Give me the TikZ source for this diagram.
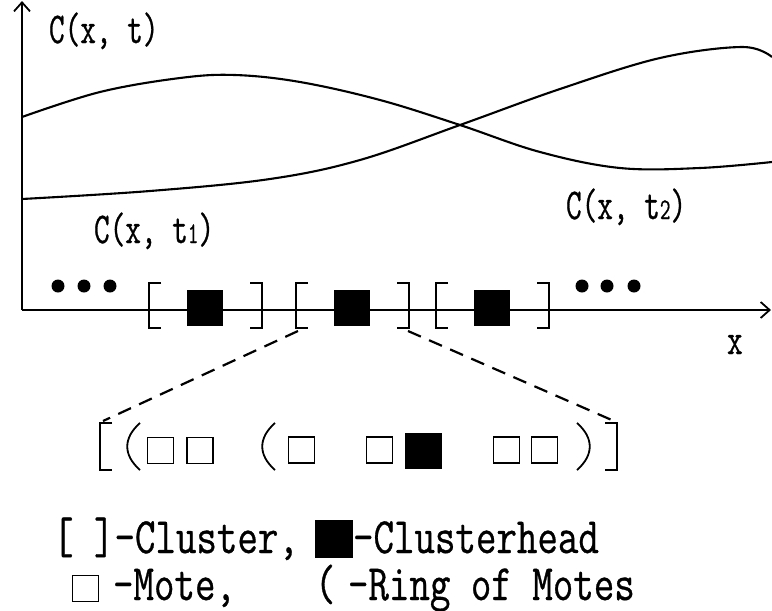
\documentclass[tikz,border=0pt]{standalone}
\usepackage{fontspec}
\newfontfamily\plotfont[FakeStretch=0.69,FakeBold=0.6]{Latin Modern Mono}
\newfontfamily\legfont[FakeStretch=0.78,FakeBold=0.6]{Latin Modern Mono}
\usetikzlibrary{arrows.meta}
\begin{document}
\begin{tikzpicture}[x=1pt,y=-1pt,line width=2.1pt,
  lab/.style={font=\plotfont\fontsize{44}{44}\selectfont, inner sep=0pt, anchor=base west},
  leg/.style={font=\legfont\fontsize{51}{51}\selectfont, inner sep=0pt, anchor=base west},
  head/.style={fill=black, draw=none, inner sep=0pt, minimum width=36pt, minimum height=36pt},
  mote/.style={draw, line width=1.7pt, fill=white, inner sep=0pt, minimum size=26pt},
  dotnode/.style={circle, fill=black, draw=none, inner sep=0pt, minimum size=13pt},
  brk/.style={line width=1.9pt},
  axis/.style={line width=2.1pt, -{Straight Barb[length=9pt,width=16pt,line width=1.8pt]}},
  link/.style={line width=2.2pt, dash pattern=on 14pt off 9pt}
]
\useasboundingbox (0,0) rectangle (772,611);

% axes
\coordinate (O) at (22,310);
\coordinate (Ytop) at (22,1);
\coordinate (Xend) at (771,310);
\draw[axis] (O) -- (Ytop);
\draw[axis] (O) -- (Xend);

% curves
\draw plot[smooth, tension=0.6] coordinates {(22,199) (150,191) (270,179) (360,160) (460,125) (560,89) (660,58) (742,47) (772,57)};
\draw plot[smooth, tension=0.6] coordinates {(22,117) (100,92) (180,78) (235,75) (300,82) (380,100) (460,125) (540,152) (620,168) (700,168) (772,162)};

% labels
\node[lab] (lC) at (48,43) {C(x, t)};
\node[lab] (lC1) at (93,243) {C(x, t{\fontsize{30}{30}\selectfont 1})};
\node[lab] (lC2) at (565,219) {C(x, t{\fontsize{30}{30}\selectfont 2})};
\node[lab] (lx) at (726,354) {x};

% dots
\node[dotnode] (d1) at (58,286) {};
\node[dotnode] (d2) at (84,286) {};
\node[dotnode] (d3) at (110,286) {};
\node[dotnode] (d4) at (582,286) {};
\node[dotnode] (d5) at (607,286) {};
\node[dotnode] (d6) at (634,286) {};

% clusters
\foreach \xo/\name in {149/h1, 296/h2, 436/h3}{
  \draw[brk] (\xo+12,283) -- (\xo,283) -- (\xo,328) -- (\xo+12,328);
  \draw[brk] (\xo+101,283) -- (\xo+113,283) -- (\xo+113,328) -- (\xo+101,328);
  \node[head] (\name) at (\xo+56,308) {};
}

% expansion
\coordinate (c2l) at (298,331);
\coordinate (c2r) at (408,331);
\coordinate (bl) at (103,421);
\coordinate (br) at (614,421);
\draw[link] (c2l) -- (bl);
\draw[link] (c2r) -- (br);

\draw[brk] (112,423) -- (100,423) -- (100,470) -- (112,470);
\draw[brk] (605,423) -- (617,423) -- (617,470) -- (605,470);
\draw[line width=1.8pt] (140,423) .. controls (123,438) and (123,455) .. (140,470);
\draw[line width=1.8pt] (275,423) .. controls (258,438) and (258,455) .. (275,470);
\draw[line width=1.8pt] (577,423) .. controls (594,438) and (594,455) .. (577,470);

\node[mote] (m1) at (160.5,450.5) {};
\node[mote] (m2) at (200,450.5) {};
\node[mote] (m3) at (301.5,450) {};
\node[mote] (m4) at (379.5,450) {};
\node[head, minimum width=37pt] (hc) at (423.5,451) {};
\node[mote] (m5) at (506.5,450) {};
\node[mote] (m6) at (544.5,450) {};

% legend
\node[leg] (t1) at (52,553) {[ ]-Cluster,};
\node[head, minimum width=38pt, minimum height=38pt] (lh) at (334,539) {};
\node[leg] (t2) at (352,553) {-Clusterhead};
\node[mote] (lm) at (85.5,588.5) {};
\node[leg] (t3) at (112,600) {-Mote,};
\node[leg] (t4) at (314,600) {(\kern-8pt{} -Ring of Motes};
\end{tikzpicture}
\end{document}
